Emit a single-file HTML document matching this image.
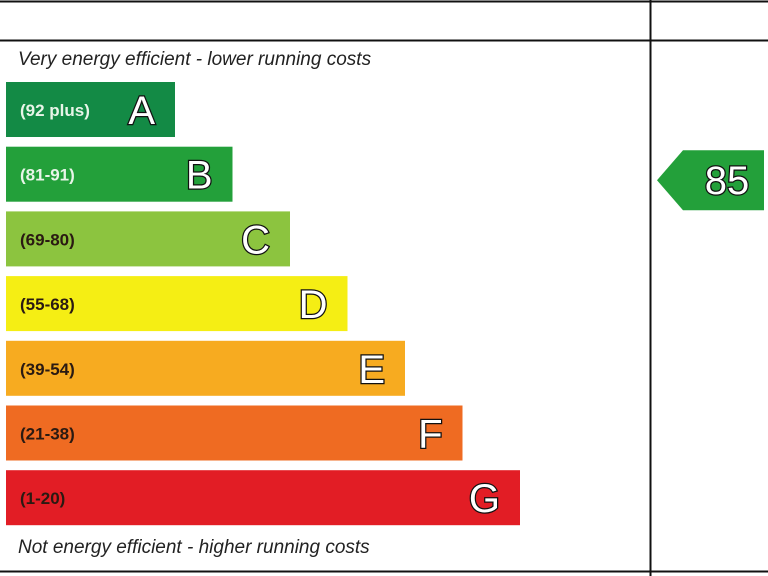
<!DOCTYPE html>
<html><head><meta charset="utf-8"><style>
html,body{margin:0;padding:0;background:#fff}
svg{display:block;font-family:"Liberation Sans",sans-serif}
</style></head><body>
<svg width="768" height="576" viewBox="0 0 768 576">
<line x1="0" y1="1.5" x2="768" y2="1.5" stroke="#111" stroke-width="2"/>
<line x1="0" y1="40.5" x2="768" y2="40.5" stroke="#111" stroke-width="2"/>
<line x1="0" y1="571.5" x2="768" y2="571.5" stroke="#111" stroke-width="2"/>
<line x1="650.5" y1="0" x2="650.5" y2="576" stroke="#111" stroke-width="2"/>
<text x="18" y="65" font-size="19" font-style="italic" fill="#222">Very energy efficient - lower running costs</text>
<text x="18" y="553" font-size="19" font-style="italic" fill="#222">Not energy efficient - higher running costs</text>
<g id="bars"></g>
<g>
<polygon id="arrow" fill="#23a03a"/>
<text id="arrowText" x="727" y="194" text-anchor="middle" font-size="40" fill="#fff" stroke="#111" stroke-width="2.5" paint-order="stroke"></text>
</g>
</svg>
<script>
const letters=["A","B","C","D","E","F","G"];
const ranges=["(92 plus)","(81-91)","(69-80)","(55-68)","(39-54)","(21-38)","(1-20)"];
const colors=["#138a45","#23a03a","#8cc43f","#f5ee14","#f7ab20","#ef6b22","#e21d25"];
const rangeMin=[92,81,69,55,39,21,1];
const currentRating=85;
const ns="http://www.w3.org/2000/svg";
const g=document.getElementById("bars");
const bandY=i=>82+i*64.7, bandH=55, barW=i=>169+i*57.5;
letters.forEach((L,i)=>{
 const y=bandY(i);
 const r=document.createElementNS(ns,"rect");
 r.setAttribute("x",6);r.setAttribute("y",y);r.setAttribute("width",barW(i));r.setAttribute("height",bandH);r.setAttribute("fill",colors[i]);
 
 
 g.appendChild(r);
 const t=document.createElementNS(ns,"text");
 t.setAttribute("x",20);t.setAttribute("y",y+34);t.setAttribute("font-size","17");t.setAttribute("font-weight","bold");
 t.setAttribute("fill",i<2?"#e8f5e8":"#2a1a12");
 t.textContent=ranges[i];
 
 
 g.appendChild(t);
 const l=document.createElementNS(ns,"text");
 l.setAttribute("x",6+barW(i)-20);l.setAttribute("y",y+42);l.setAttribute("text-anchor","end");l.setAttribute("font-size","40");
 l.setAttribute("fill","#fff");l.setAttribute("stroke","#111");l.setAttribute("stroke-width","2.5");l.setAttribute("paint-order","stroke");
 l.textContent=L;
 
 
 g.appendChild(l);
});
const idx=rangeMin.findIndex(m=>currentRating>=m);
const ay=bandY(idx)+bandH/2+6;
document.getElementById("arrow").setAttribute("points",`657,${ay} 683,${ay-30} 764,${ay-30} 764,${ay+30} 683,${ay+30}`);
document.getElementById("arrow").setAttribute("fill",colors[idx]);
const at=document.getElementById("arrowText");at.textContent=currentRating;at.setAttribute("y",ay+14);
</script>
</body></html>
